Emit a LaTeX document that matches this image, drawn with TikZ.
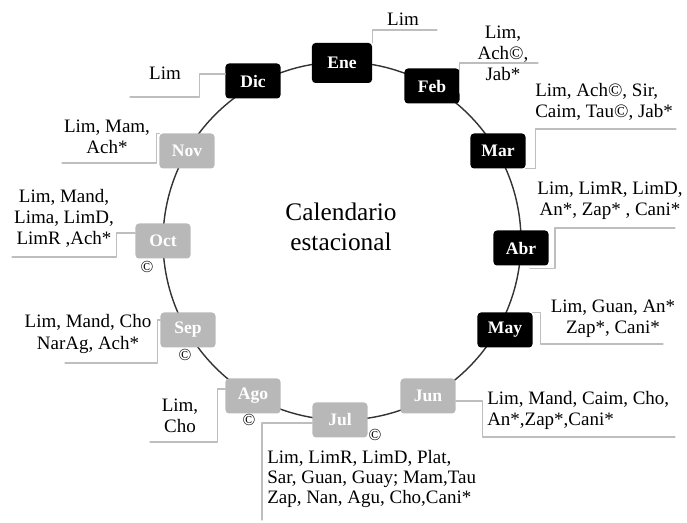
\documentclass[tikz,border=0pt]{standalone}
\usepackage{fontspec}
\setmainfont{Liberation Serif}
\definecolor{gris}{RGB}{184,184,184}
\definecolor{guiagris}{RGB}{190,190,190}
\begin{document}
\begin{tikzpicture}[x=0.025cm, y=-0.025cm, line join=round, line cap=round,
  mes/.style={rounded corners=2.5pt, minimum width=1.375cm, minimum height=0.875cm, inner sep=1pt,
    text=white, font=\fontsize{12.5}{14}\selectfont\bfseries},
  seca/.style={mes, fill=black},
  grande/.style={seca, minimum width=1.5cm, minimum height=1cm},
  lluvia/.style={mes, fill=gris},
  nota/.style={font=\fontsize{13.5}{15}\selectfont, align=center, inner sep=0pt},
  marca/.style={font=\fontsize{12}{12}\selectfont, inner sep=0pt},
  guia/.style={draw=guiagris, line width=0.9pt}]
\useasboundingbox (0,0) rectangle (687,523);
\def\cx{342} \def\cy{241} \def\r{179}
\draw[line width=1pt, black!80] (\cx,\cy) circle (\r);
\node[font=\fontsize{18}{21}\selectfont, align=center] (titulo) at (341,227) {Calendario\\estacional};
% meses
\foreach \m/\t/\s/\p in {ene/Ene/grande/{342,63}, feb/Feb/seca/{432,86}, mar/Mar/seca/{498,151},
    abr/Abr/seca/{521,248}, may/May/seca/{505,330}, jun/Jun/lluvia/{428,396},
    jul/Jul/lluvia/{340,420}, ago/Ago/lluvia/{253,396}, sep/Sep/lluvia/{188,330},
    oct/Oct/lluvia/{163,241}, nov/Nov/lluvia/{187,151}, dic/Dic/seca/{253,81}}
  \node[\s] (\m) at (\p) {\t};
% extremos libres
\coordinate (eneF) at (437,30); \coordinate (febF) at (538,63);
\coordinate (marF) at (676,129); \coordinate (abrF) at (675,228);
\coordinate (mayF) at (663,344); \coordinate (junF) at (675,437);
\coordinate (julF) at (262,520); \coordinate (agoF) at (150,442);
\coordinate (sepF) at (65,363); \coordinate (octF) at (12,257);
\coordinate (novF) at (62,163); \coordinate (dicF) at (130,97);
\draw[guia] (ene.north east) |- (eneF);
\draw[guia] (feb.east) ++(0,7) |- (febF);
\draw[guia] (mar.south east) -- ++(10,0) |- (marF);
\draw[guia] ([shift={(9,3)}]abr.south) -- ++(25,0) |- (abrF);
\draw[guia] (may.north east) -- ++(8,0) |- (mayF);
\draw[guia] (jun.east) ++(0,5) -- ++(27,0) |- (junF);
\draw[guia] (jul.west) ++(0,3) -| (julF);
\draw[guia] (ago.west) ++(0,-7) -- ++(-8,0) |- (agoF);
\draw[guia] (sep.west) ++(0,-10) -- ++(-3,0) |- (sepF);
\draw[guia] (oct.west) ++(0,-8) -- ++(-19,0) |- (octF);
\draw[guia] (nov.north west) -- ++(-3,0) |- (novF);
\draw[guia] (dic.west) ++(0,-7) -- ++(-26,0) |- (dicF);
% especies
\node[nota] (eneN) at (403,19) {Lim};
\node[nota] (febN) at (503,53) {Lim,\\Ach©,\\Jab*};
\node[nota, align=left, anchor=west] (marN) at (535,102) {Lim, Ach©, Sir,\\Caim, Tau©, Jab*};
\node[nota] (abrN) at (610,201) {Lim, LimR, LimD,\\An*, Zap* , Cani*};
\node[nota] (mayN) at (613,319) {Lim, Guan, An*\\Zap*, Cani*};
\node[nota, align=left, anchor=west] (junN) at (487,410) {Lim, Mand, Caim, Cho,\\An*,Zap*,Cani*};
\node[nota, align=left, anchor=west, font=\fontsize{13.5}{14}\selectfont] (julN) at (267,479)
  {Lim, LimR, LimD, Plat,\\Sar, Guan, Guay; Mam,Tau\\Zap, Nan, Agu, Cho,Cani*};
\node[nota] (agoN) at (180,416) {Lim,\\Cho};
\node[nota] (sepN) at (88,334) {Lim, Mand, Cho\\NarAg, Ach*};
\node[nota] (octN) at (64,218) {Lim, Mand,\\Lima, LimD,\\LimR ,Ach*};
\node[nota] (novN) at (107,137) {Lim, Mam,\\Ach*};
\node[nota] (dicN) at (165,73) {Lim};
% marcas
\node[marca] (sepC) at (185,355) {©};
\node[marca] (agoC) at (249,420) {©};
\node[marca] (octC) at (147,267) {©};
\node[marca] (julC) at (375,435) {©};
\end{tikzpicture}
\end{document}
